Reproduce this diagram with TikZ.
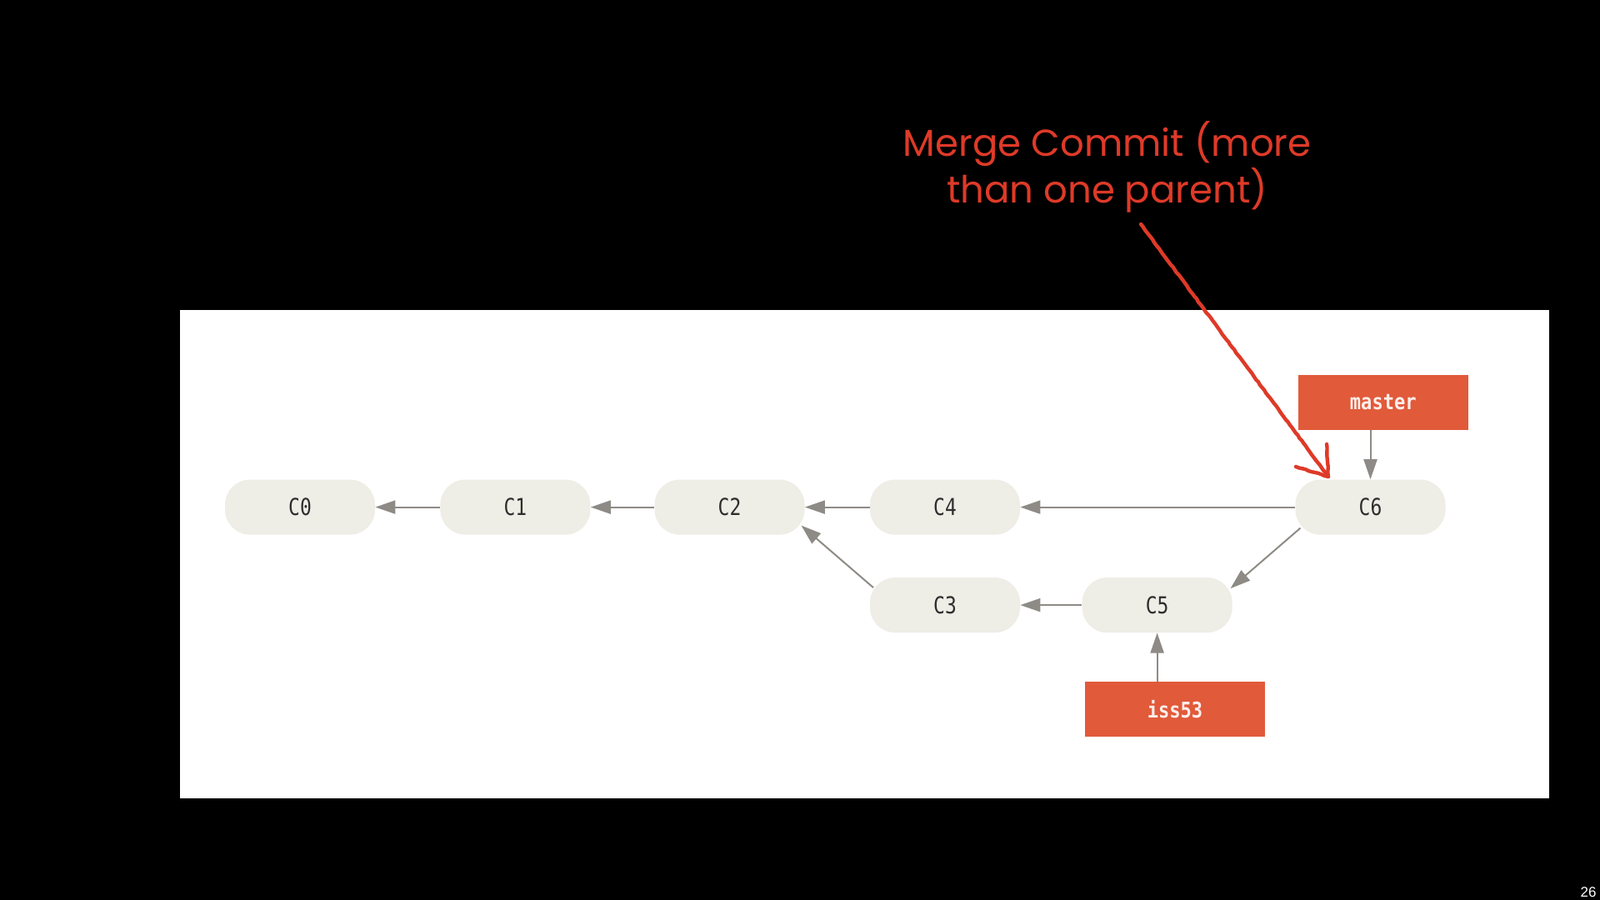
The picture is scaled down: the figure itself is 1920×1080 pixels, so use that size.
\documentclass[tikz,border=0pt]{standalone}
\usepackage{fontspec}
\setmainfont{Poppins}
\newfontfamily\codefont[FakeStretch=0.82]{DejaVu Sans Mono}
\newfontfamily\branchfont[FakeStretch=0.85]{DejaVu Sans Mono Bold}
\newfontfamily\notefont{Poppins}
\newfontfamily\pagefont{Liberation Sans}
\usetikzlibrary{arrows.meta,calc,decorations.pathmorphing}
\definecolor{commitfill}{HTML}{EEEDE6}
\definecolor{reffill}{HTML}{E15A3A}
\definecolor{linkgray}{HTML}{8E8B86}
\definecolor{notered}{HTML}{DE3A28}
\definecolor{commitText}{HTML}{2E2E2E}
\tikzset{
  commit/.style={rectangle, rounded corners=15pt, fill=commitfill, minimum width=90pt, minimum height=33pt, inner sep=0pt, font=\codefont\fontsize{14pt}{16pt}\selectfont, text=commitText},
  branchref/.style={rectangle, fill=reffill, minimum height=33pt, inner sep=0pt, font=\branchfont\fontsize{13pt}{15pt}\selectfont, text=white!90!reffill},
  link/.style={draw=linkgray, line width=1pt, -{Triangle[length=12pt,width=8pt]}},
  note/.style={text=notered, font=\notefont\fontsize{22.5pt}{26.3pt}\selectfont, align=center, inner sep=0pt},
  notearrow/.style={draw=notered, line width=2.2pt, line cap=round, line join=round},
  sketchy/.style={decorate, decoration={random steps, segment length=2pt, amplitude=0.2pt}}
}
\begin{document}
\begin{tikzpicture}[x=0.5pt,y=-0.5pt]
\fill[black] (0,0) rectangle (1920,1080);
\useasboundingbox (0,0) rectangle (1920,1080);
\fill[white] (215.5,372.2) rectangle (1858.8,957.6);

\node[commit] (C0) at (360,608.6) {C0};
\node[commit] (C1) at (618.4,608.6) {C1};
\node[commit] (C2) at (875.5,608.6) {C2};
\node[commit] (C4) at (1134,608.6) {C4};
\node[commit] (C6) at (1644.5,608.6) {C6};
\node[commit] (C3) at (1134,726.1) {C3};
\node[commit] (C5) at (1388.6,726.1) {C5};

\node[branchref, minimum width=102pt] (master) at (1659.8,482.5) {master};
\node[branchref, minimum width=108pt] (iss53) at (1410,851) {iss53};

\draw[link] (C1) -- (C0);
\draw[link] (C2) -- (C1);
\draw[link] (C4) -- (C2);
\draw[link] (C6) -- (C4);
\draw[link] (C5) -- (C3);
\draw[link] ($(C3.center)+(-86,-21)$) -- ($(C2.center)+(86,22)$);
\draw[link] ($(C6.center)+(-84,25)$) -- ($(C5.center)+(88,-20)$);
\draw[link] (master.south -| C6.center) -- (C6.north);
\draw[link] (iss53.north -| C5.center) -- (C5.south);

\node[note] (notetext) at (1328.6,200) {Merge Commit (more\\than one parent)};
\coordinate (notestart) at (1369,269);
\coordinate (notetip) at ($(C6.center)+(-50.5,-36.6)$);
\draw[notearrow, sketchy] (notestart) -- (notetip);
\draw[notearrow, sketchy] ($(notetip)+(-39,-12)$) -- (notetip) -- ($(notetip)+(-2,-39)$);

\node[text=white, font=\pagefont\fontsize{8.5pt}{10pt}\selectfont, anchor=south east, inner sep=0pt] (pagenum) at (1916,1077) {26};
\end{tikzpicture}
\end{document}
